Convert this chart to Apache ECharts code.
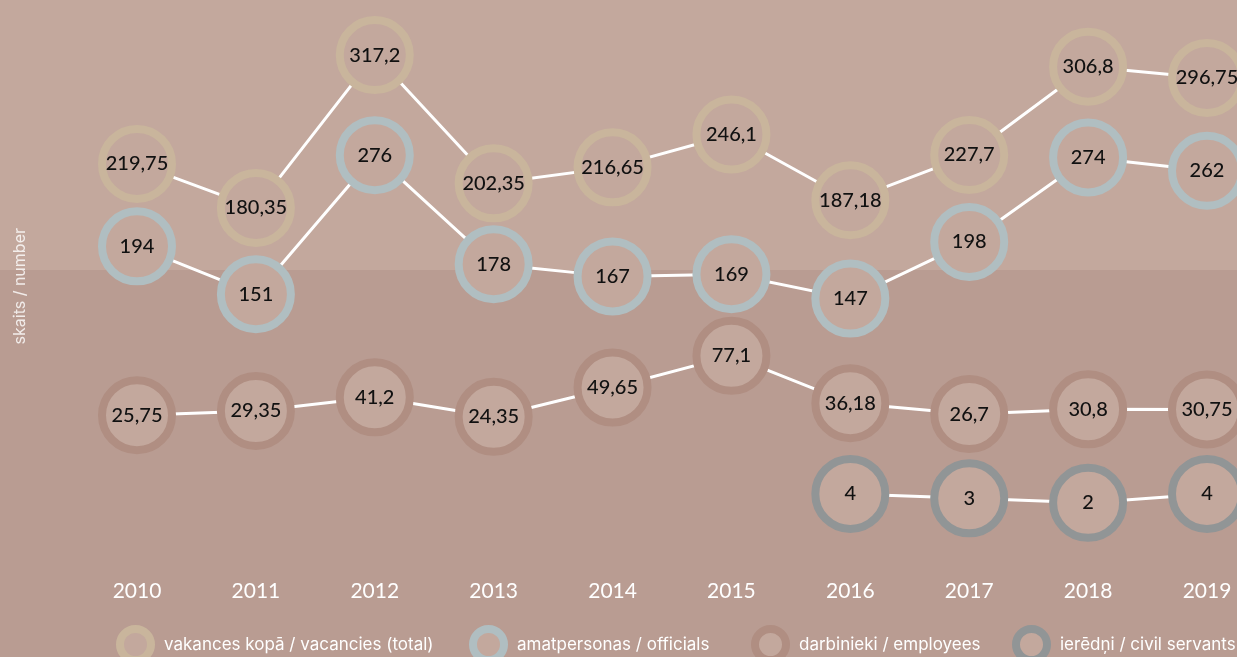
<!DOCTYPE html>
<html>
<head>
<meta charset="utf-8">
<script src="https://cdn.jsdelivr.net/npm/echarts@6/dist/echarts.min.js"></script>
<style>
  html, body { margin: 0; padding: 0; }
  body {
    width: 1237px;
    height: 657px;
    overflow: hidden;
    background: linear-gradient(to bottom, #c3a89d 0, #c3a89d 270px, #b99c92 270px, #b99c92 100%);
  }
  #chart { width: 1237px; height: 657px; }
</style>
</head>
<body>
<div id="chart"></div>
<script>
// vacancies by year
const years = ['2010', '2011', '2012', '2013', '2014', '2015', '2016', '2017', '2018', '2019'];
const vacanciesTotal = [219.75, 180.35, 317.2, 202.35, 216.65, 246.1, 187.18, 227.7, 306.8, 296.75];
const officials = [194, 151, 276, 178, 167, 169, 147, 198, 274, 262];
const employees = [25.75, 29.35, 41.2, 24.35, 49.65, 77.1, 36.18, 26.7, 30.8, 30.75];
const civilServants = [null, null, null, null, null, null, 4, 3, 2, 4];

const names = [
  'vakances kopā / vacancies (total)',
  'amatpersonas / officials',
  'darbinieki / employees',
  'ierēdņi / civil servants',
];

const FILL = '#c3a89d';
const FONT = 'Lato, "Noto Sans", sans-serif';
const LEGEND_FONT = 'Inter, Lato, sans-serif';

const chart = echarts.init(document.getElementById('chart'), null, { renderer: 'canvas' });

function ringSeries(name, data, ring, axis) {
  return {
    name,
    type: 'line',
    yAxisIndex: axis,
    data,
    symbol: 'circle',
    symbolSize: 70,
    showAllSymbol: true,
    lineStyle: { color: '#ffffff', width: 3 },
    itemStyle: { color: FILL, borderColor: ring, borderWidth: 8 },
    label: {
      show: true,
      position: 'inside',
      color: '#111',
      fontFamily: FONT,
      fontSize: 20,
      fontWeight: 500,
      formatter: (p) => String(p.value).replace('.', ','),
    },
    emphasis: { disabled: true },
    silent: true,
  };
}

// each series sits on its own hidden value axis, as in the original layout
const hiddenAxis = (min, max) => ({ type: 'value', show: false, min, max, splitLine: { show: false } });

// one legend block per entry so the spacing follows the original
const legendBlock = (name, left) => ({
  top: 625,
  left,
  padding: 0,
  icon: 'circle',
  itemWidth: 31,
  itemHeight: 31,
  itemStyle: { borderWidth: 8 },
  textStyle: { color: '#ffffff', fontFamily: LEGEND_FONT, fontSize: 17, padding: [0, 0, 0, 8] },
  data: [name],
  selectedMode: false,
});

chart.setOption({
  backgroundColor: 'transparent',
  animation: false,
  grid: { top: 20, bottom: 97, left: 137, right: 30, containLabel: false },
  legend: [
    legendBlock(names[0], 116),
    legendBlock(names[1], 469),
    legendBlock(names[2], 751),
    legendBlock(names[3], 1012),
  ],
  graphic: [
    {
      type: 'text',
      left: 12,
      top: 228,
      rotation: Math.PI / 2,
      style: { text: 'skaits / number', fill: 'rgba(255,255,255,0.8)', font: '16px ' + LEGEND_FONT },
    },
  ],
  xAxis: {
    type: 'category',
    data: years,
    boundaryGap: false,
    axisLine: { show: false },
    axisTick: { show: false },
    splitLine: { show: false },
    axisLabel: { color: '#ffffff', fontFamily: FONT, fontSize: 21, margin: 21 },
  },
  yAxis: [
    hiddenAxis(-134.9, 348.6),
    hiddenAxis(-88.1, 397.6),
    hiddenAxis(-99.5, 367.6),
    hiddenAxis(-10.85, 110.5),
  ],
  series: [
    ringSeries(names[0], vacanciesTotal, '#c9b59c', 0),
    ringSeries(names[1], officials, '#b0bec1', 1),
    ringSeries(names[2], employees, '#b08e82', 2),
    ringSeries(names[3], civilServants, '#919596', 3),
  ],
});
</script>
</body>
</html>
